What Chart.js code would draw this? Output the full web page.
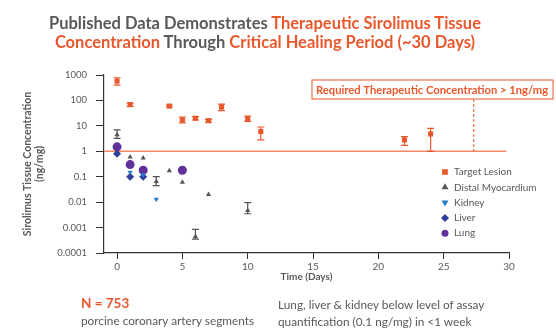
<!DOCTYPE html>
<html>
<head>
<meta charset="utf-8">
<script src="https://cdn.jsdelivr.net/npm/chart.js@4/dist/chart.umd.min.js"></script>
<style>
  body { margin: 0; background: #fff; font-family: Lato, "Open Sans", sans-serif; }
  #wrap { position: relative; width: 556px; height: 330px; }
  #title { position: absolute; left: 0; top: 14px; width: 530px; text-align: center;
           font-weight: bold; font-size: 16.5px; line-height: 19px; color: #595959; }
  .hl { color: #E8582C; }
  .note { position: absolute; color: #595959; font-size: 11.8px; line-height: 17px; }
  #n { font-weight: bold; color: #E8582C; font-size: 13.5px; }
</style>
</head>
<body>
<div id="wrap">
  <canvas id="chart" width="556" height="330"></canvas>
  <div id="title">Published Data Demonstrates <span class="hl">Therapeutic Sirolimus Tissue</span><br>
    <span class="hl">Concentration</span> Through <span class="hl">Critical Healing Period (~30 Days)</span></div>
  <div class="note" style="left:81px; top:295px;"><span id="n">N = 753</span><br>porcine coronary artery segments</div>
  <div class="note" style="left:278px; top:296px;">Lung, liver &amp; kidney below level of assay<br>quantification (0.1 ng/mg) in &lt;1 week</div>
</div>
<script>
// target lesion
const lesionDays = [0, 1, 4, 5, 6, 7, 8, 10, 11, 22, 24];
const lesionVals = [580, 68, 60, 17, 20, 16, 55, 19, 6, 2.8, 4.8];
const lesionLow  = [400, 58, 54, 13, 17, 14, 40, 15, 2.8, 1.7, 1];
const lesionHigh = [780, 78, 66, 22, 23, 18, 72, 24, 9, 3.8, 8];

// distal myocardium
const myoDays = [0, 1, 2, 3, 4, 5, 6, 7, 10];
const myoVals = [4.5, 0.6, 0.55, 0.065, 0.17, 0.06, 0.00045, 0.02, 0.0047];
const myoLow  = [3.2, null, null, 0.045, null, null, 0.00035, null, 0.0035];
const myoHigh = [7, null, null, 0.1, null, null, 0.00085, null, 0.0095];

const kidneyDays = [1, 2, 3];
const kidneyVals = [0.15, 0.12, 0.013];

const liverDays = [0, 1, 2];
const liverVals = [0.8, 0.1, 0.1];

const lungDays = [0, 1, 2, 5];
const lungVals = [1.5, 0.3, 0.18, 0.18];

const yTicks = [1000, 100, 10, 1, 0.1, 0.01, 0.001, 0.0001];
const xTicks = [0, 5, 10, 15, 20, 25, 30];

const threshold = 1;
const calloutDay = 27.3;
const calloutText = "Required Therapeutic Concentration > 1ng/mg";

const orange = "#E8582C";
const grey = "#595959";

function pts(xs, ys) {
    return xs.map((x, i) => ({x: x, y: ys[i]}));
}

const errorBars = {
    id: "errorBars",
    afterDatasetsDraw(chart) {
        const ctx = chart.ctx;
        const xs = chart.scales.x, ys = chart.scales.y;
        chart.data.datasets.forEach(ds => {
            if (!ds.errLow) return;
            ctx.save();
            ctx.strokeStyle = ds.borderColor;
            ctx.lineWidth = 1.2;
            ds.data.forEach((p, i) => {
                if (ds.errLow[i] == null) return;
                const px = xs.getPixelForValue(p.x);
                const lo = ys.getPixelForValue(ds.errLow[i]);
                const hi = ys.getPixelForValue(ds.errHigh[i]);
                ctx.beginPath();
                ctx.moveTo(px, lo); ctx.lineTo(px, hi);
                ctx.moveTo(px - 3.5, lo); ctx.lineTo(px + 3.5, lo);
                ctx.moveTo(px - 3.5, hi); ctx.lineTo(px + 3.5, hi);
                ctx.stroke();
            });
            ctx.restore();
        });
    }
};

const callout = {
    id: "callout",
    afterDraw(chart) {
        const ctx = chart.ctx;
        const xs = chart.scales.x, ys = chart.scales.y;
        const px = xs.getPixelForValue(calloutDay);
        const y1 = ys.getPixelForValue(threshold);
        ctx.save();
        ctx.font = "bold 11.2px Lato";
        const w = ctx.measureText(calloutText).width;
        const boxW = w + 9, boxH = 19;
        const boxX = 312, boxTop = 80;
        ctx.strokeStyle = orange;
        ctx.lineWidth = 1;
        ctx.strokeRect(boxX, boxTop, boxW, boxH);
        ctx.fillStyle = orange;
        ctx.textBaseline = "middle";
        ctx.fillText(calloutText, boxX + 4, boxTop + boxH / 2 + 0.5);
        ctx.setLineDash([3, 2]);
        ctx.beginPath();
        ctx.moveTo(px, boxTop + boxH);
        ctx.lineTo(px, y1);
        ctx.stroke();
        ctx.restore();

        // legend
        ctx.save();
        ctx.font = "10px Lato";
        ctx.textBaseline = "middle";
        let ly = 172;
        chart.data.datasets.forEach(ds => {
            if (!ds.inLegend) return;
            ctx.fillStyle = ds.backgroundColor;
            ctx.strokeStyle = ds.backgroundColor;
            Chart.helpers.drawPoint(ctx, {
                pointStyle: ds.pointStyle, radius: ds.legendRadius,
                rotation: ds.rotation || 0, borderWidth: 0
            }, 445, ly);
            ctx.fillStyle = grey;
            ctx.fillText(ds.label, 454, ly);
            ly += 15.3;
        });
        ctx.restore();
    }
};

new Chart(document.getElementById("chart"), {
    type: "scatter",
    data: {
        datasets: [
            {
                type: "line", label: "threshold",
                data: [{x: -1, y: threshold}, {x: 29.8, y: threshold}],
                borderColor: "#F0896A", borderWidth: 1.5, pointRadius: 0, order: 10
            },
            {
                label: "Target Lesion", data: pts(lesionDays, lesionVals),
                errLow: lesionLow, errHigh: lesionHigh, inLegend: true,
                pointStyle: "rect", pointRadius: 3.6, legendRadius: 4,
                backgroundColor: orange, borderColor: orange, borderWidth: 0
            },
            {
                label: "Distal Myocardium", data: pts(myoDays, myoVals),
                errLow: myoLow, errHigh: myoHigh, inLegend: true,
                pointStyle: "triangle", pointRadius: 3, legendRadius: 4,
                backgroundColor: "#555555", borderColor: "#555555", borderWidth: 0
            },
            {
                label: "Kidney", data: pts(kidneyDays, kidneyVals), inLegend: true,
                pointStyle: "triangle", rotation: 180, pointRotation: 180,
                pointRadius: 3, legendRadius: 4,
                backgroundColor: "#2A7BC8", borderColor: "#2A7BC8", borderWidth: 0
            },
            {
                label: "Liver", data: pts(liverDays, liverVals), inLegend: true,
                pointStyle: "rectRot", pointRadius: 4, legendRadius: 4,
                backgroundColor: "#323D9A", borderColor: "#323D9A", borderWidth: 0
            },
            {
                label: "Lung", data: pts(lungDays, lungVals), inLegend: true,
                pointStyle: "circle", pointRadius: 4.5, legendRadius: 3.5,
                backgroundColor: "#62309A", borderColor: "#62309A", borderWidth: 0
            }
        ]
    },
    options: {
        responsive: false,
        animation: {duration: 0},
        layout: {padding: {left: 21, top: 75, right: 47, bottom: 47}},
        plugins: {legend: {display: false}, tooltip: {enabled: false}},
        scales: {
            x: {
                type: "linear", min: -1, max: 30,
                afterBuildTicks: axis => { axis.ticks = xTicks.map(v => ({value: v})); },
                ticks: {color: grey, font: {family: "Lato", size: 10}, padding: 2},
                grid: {drawOnChartArea: false, tickLength: 6, color: "#333"},
                border: {color: "#333", width: 1.2},
                title: {display: true, text: "Time (Days)", color: grey, padding: {top: -4, bottom: 0},
                        font: {family: "Lato", size: 10, weight: "bold"}}
            },
            y: {
                type: "logarithmic", min: 0.0001, max: 1000,
                afterBuildTicks: axis => { axis.ticks = yTicks.map(v => ({value: v})); },
                ticks: {color: grey, font: {family: "Lato", size: 9.5}, padding: 9,
                        callback: v => String(v)},
                grid: {drawOnChartArea: false, tickLength: 8, color: "#333"},
                border: {color: "#333", width: 1.2},
                title: {display: true, text: ["Sirolimus Tissue Concentration", "(ng/mg)"],
                        color: grey, padding: {top: 0, bottom: 2},
                        font: {family: "Lato", size: 10.5, weight: "bold"}}
            }
        }
    },
    plugins: [errorBars, callout]
});
</script>
</body>
</html>
